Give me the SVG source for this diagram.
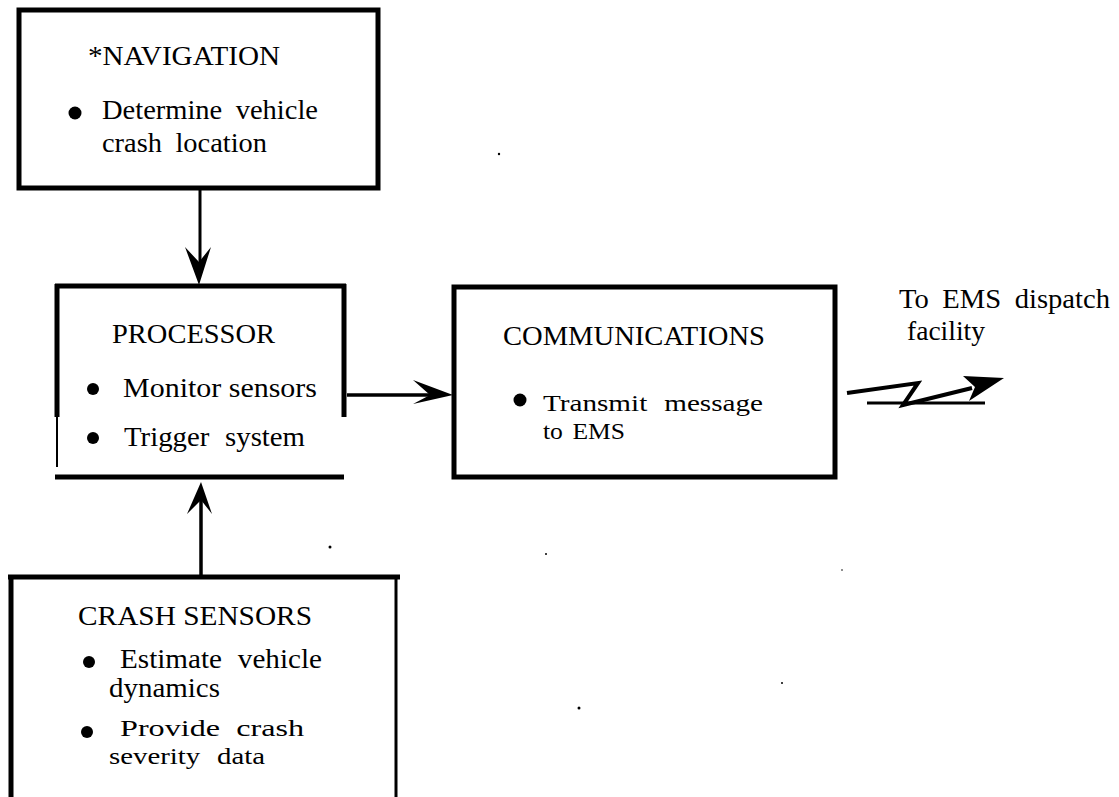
<svg xmlns="http://www.w3.org/2000/svg" width="1119" height="797" viewBox="0 0 1119 797">
<style>
text{font-family:'Liberation Serif','Times New Roman',Times,serif;font-size:27px;fill:#000}
text.s{font-size:24px}
.box{fill:none;stroke:#000;stroke-width:5}
.ln{stroke:#000;fill:none}
.dot{fill:#000}
</style>
<rect width="1119" height="797" fill="#fff"/>
<g id="navigation">
<rect class="box" x="19" y="10" width="359" height="178"/>
<text x="88" y="65" textLength="192" lengthAdjust="spacingAndGlyphs">*NAVIGATION</text>
<circle class="dot" cx="75" cy="113" r="6.5"/>
<text x="102" y="119" textLength="216" lengthAdjust="spacingAndGlyphs" word-spacing="6">Determine vehicle</text>
<text x="102" y="152" textLength="165" lengthAdjust="spacingAndGlyphs" word-spacing="6">crash location</text>
</g>
<g id="processor">
<line class="ln" x1="55" y1="286" x2="346" y2="286" stroke-width="5"/>
<line class="ln" x1="57" y1="284" x2="57" y2="417" stroke-width="5"/>
<line class="ln" x1="57" y1="417" x2="57" y2="467" stroke-width="2"/>
<line class="ln" x1="344" y1="284" x2="344" y2="417" stroke-width="5"/>
<line class="ln" x1="55" y1="477" x2="344" y2="477" stroke-width="5"/>
<text x="112" y="343" textLength="163" lengthAdjust="spacingAndGlyphs">PROCESSOR</text>
<circle class="dot" cx="93" cy="389" r="6"/>
<text x="123" y="397" textLength="194" lengthAdjust="spacingAndGlyphs">Monitor sensors</text>
<circle class="dot" cx="93" cy="438" r="6"/>
<text x="124" y="446" textLength="181" lengthAdjust="spacingAndGlyphs" word-spacing="8">Trigger system</text>
</g>
<g id="communications">
<rect class="box" x="454" y="287" width="381" height="190"/>
<text x="503" y="345" textLength="262" lengthAdjust="spacingAndGlyphs">COMMUNICATIONS</text>
<circle class="dot" cx="520" cy="400" r="6.5"/>
<text class="s" x="543" y="411" textLength="220" lengthAdjust="spacingAndGlyphs" word-spacing="8">Transmit message</text>
<text class="s" x="543" y="439" textLength="82" lengthAdjust="spacingAndGlyphs" word-spacing="3">to EMS</text>
</g>
<g id="crash-sensors">
<line class="ln" x1="8" y1="577" x2="400" y2="577" stroke-width="5"/>
<line class="ln" x1="11" y1="575" x2="11" y2="797" stroke-width="5"/>
<line class="ln" x1="396" y1="577" x2="396" y2="797" stroke-width="3"/>
<text x="78" y="625" textLength="234" lengthAdjust="spacingAndGlyphs">CRASH SENSORS</text>
<circle class="dot" cx="89" cy="662" r="6"/>
<text x="120" y="668" textLength="202" lengthAdjust="spacingAndGlyphs" word-spacing="8">Estimate vehicle</text>
<text x="109" y="697" textLength="111" lengthAdjust="spacingAndGlyphs">dynamics</text>
<circle class="dot" cx="87" cy="732" r="6"/>
<text class="s" x="120" y="736" textLength="184" lengthAdjust="spacingAndGlyphs" word-spacing="6">Provide crash</text>
<text class="s" x="109" y="764" textLength="156" lengthAdjust="spacingAndGlyphs" word-spacing="8">severity data</text>
</g>
<g id="ems-facility">
<text x="899" y="308" textLength="211" lengthAdjust="spacingAndGlyphs" word-spacing="6">To EMS dispatch</text>
<text x="907" y="340" textLength="78" lengthAdjust="spacingAndGlyphs">facility</text>
</g>
<g id="connectors">
<line class="ln" x1="200" y1="188" x2="200" y2="264" stroke-width="3"/>
<path class="dot" d="M199,285 L185,247 L199,262 L211,247 Z"/>
<line class="ln" x1="347" y1="395" x2="432" y2="395" stroke-width="3.5"/>
<path class="dot" d="M453,395 L413,380 L430,395 L413,404 Z"/>
<line class="ln" x1="201" y1="575" x2="201" y2="500" stroke-width="3.5"/>
<path class="dot" d="M201,482 L187,514 L201,500 L212,514 Z"/>
<path class="ln" d="M847,393 L918,383 L903,405 L972,388" stroke-width="4" stroke-linejoin="miter"/>
<path class="dot" d="M1004,378 L963,376 L975,387 L969,401 Z"/>
<line class="ln" x1="867" y1="403" x2="985" y2="403" stroke-width="3"/>
</g>
<g id="specks">
<circle class="dot" cx="330" cy="547" r="1.5"/>
<circle class="dot" cx="499" cy="154" r="1.2"/>
<circle class="dot" cx="546" cy="554" r="1"/>
<circle class="dot" cx="842" cy="570" r="0.8"/>
<circle class="dot" cx="782" cy="683" r="1"/>
<circle class="dot" cx="579" cy="708" r="1.5"/>
</g>
</svg>
